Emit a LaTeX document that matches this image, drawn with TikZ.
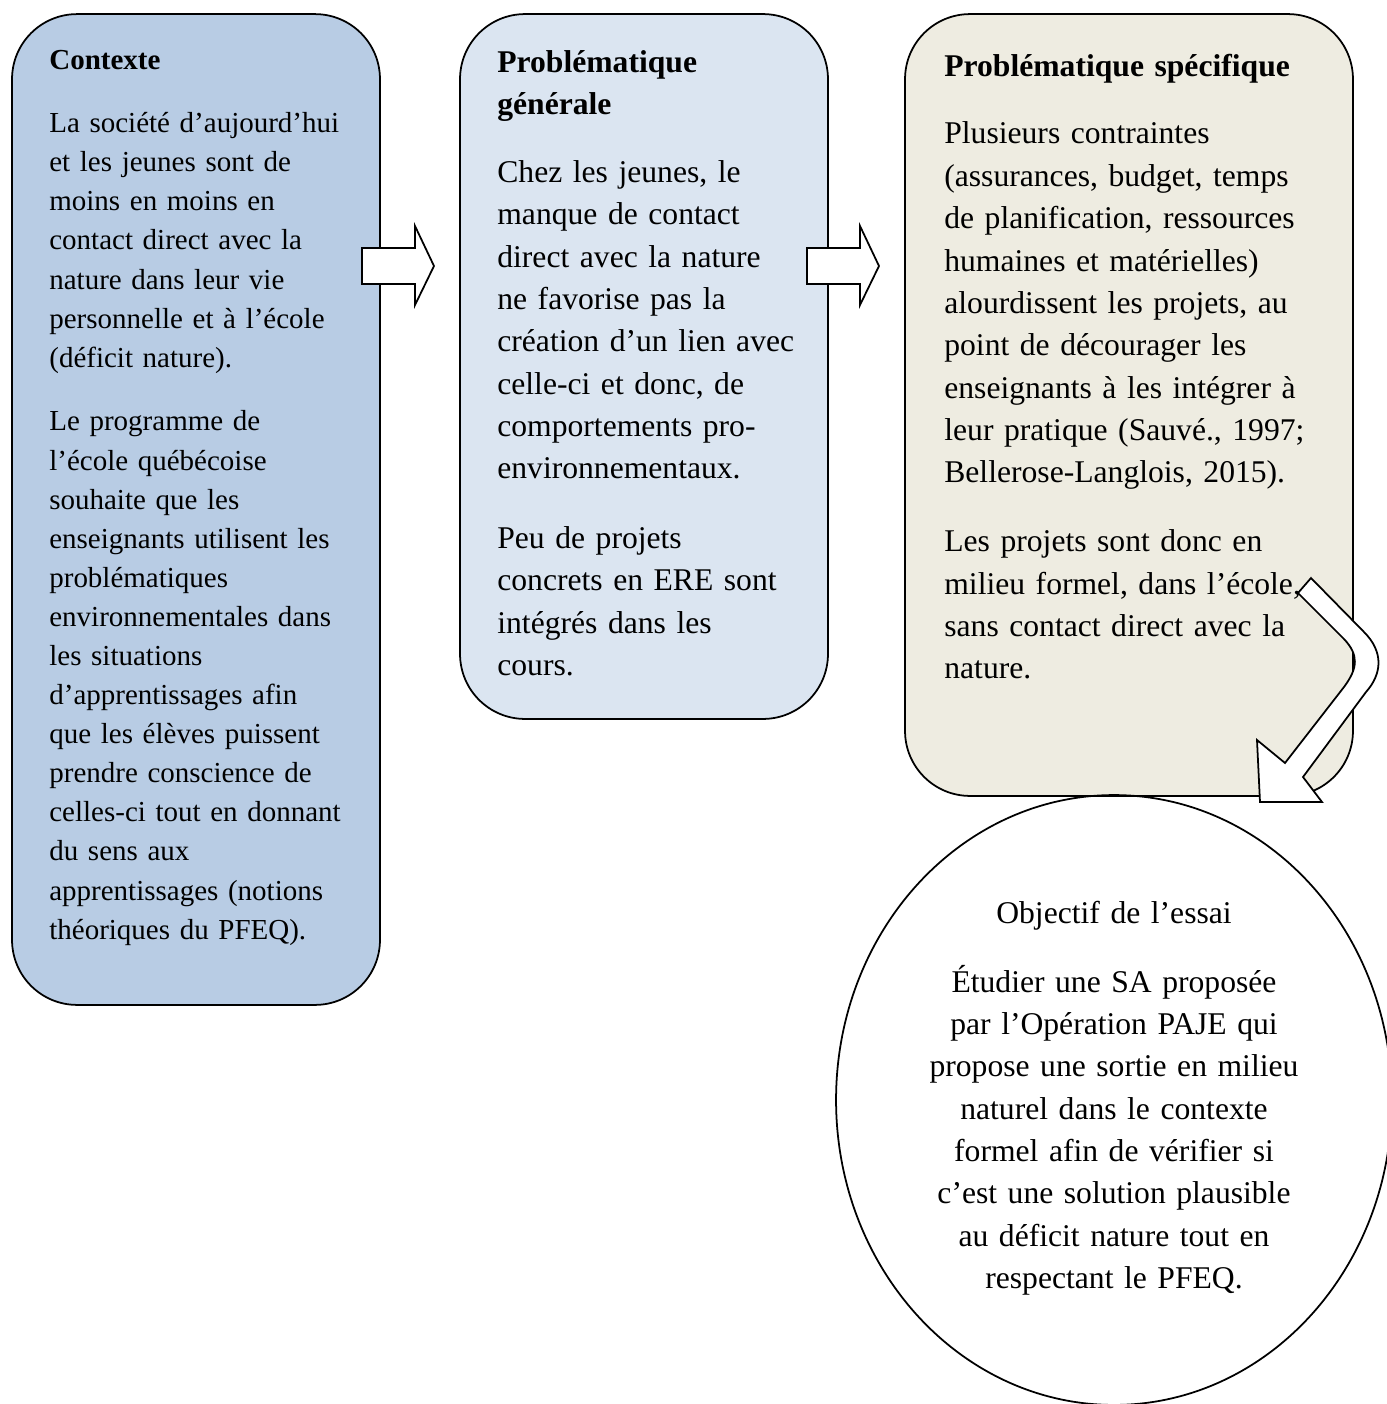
\documentclass[tikz,border=0pt]{standalone}
\usepackage{fontspec}
\setmainfont{Liberation Serif}
\usetikzlibrary{shapes.geometric}
\definecolor{ctxblue}{HTML}{B8CCE4}
\definecolor{genblue}{HTML}{DBE5F1}
\definecolor{specbeige}{HTML}{EEECE1}

\begin{document}
\begin{tikzpicture}
		[x=0.02cm,y=-0.02cm,
		box/.style={draw,line width=1pt,rounded corners=1.3cm,inner sep=0pt},
		body/.style={anchor=base west,align=left,inner sep=0pt,text width=7.5cm,font=\fontsize{18}{24.1}\selectfont},
		blockarrow/.style={draw,line width=1pt,fill=white,line join=miter}]
		\useasboundingbox (0,0) rectangle (1387,1404);

		\node[box,fill=ctxblue,minimum width=7.36cm,minimum height=19.82cm] (ctx) at (196,509.5) {};
		\node[box,fill=genblue,minimum width=7.36cm,minimum height=14.1cm] (gen) at (644,366.5) {};
		\node[box,fill=specbeige,minimum width=8.96cm,minimum height=15.64cm] (spec) at (1129,405) {};
		\node[draw,line width=1pt,ellipse,inner sep=0pt,minimum width=11.12cm,minimum height=12.2cm] (obj) at (1114,1100) {};

		\node[body,font=\fontsize{16.5}{22.25}\selectfont] (ctxtxt) at (49,69)
			{\textbf{Contexte}\\[14pt]
			La société d’aujourd’hui\\ et les jeunes sont de\\ moins en moins en\\ contact direct avec la\\
			nature dans leur vie\\ personnelle et à l’école\\ (déficit nature).\\[14pt]
			Le programme de\\ l’école québécoise\\ souhaite que les\\ enseignants utilisent les\\
			problématiques\\ environnementales dans\\ les situations\\ d’apprentissages afin\\
			que les élèves puissent\\ prendre conscience de\\ celles-ci tout en donnant\\ du sens aux\\
			apprentissages (notions\\ théoriques du PFEQ).};
		\node[body] (gentxt) at (497,72)
			{\textbf{Problématique}\\ \textbf{générale}\\[14.6pt]
			Chez les jeunes, le\\ manque de contact\\ direct avec la nature\\ ne favorise pas la\\
			création d’un lien avec\\ celle-ci et donc, de\\ comportements pro-\\ environnementaux.\\[15.6pt]
			Peu de projets\\ concrets en ERE sont\\ intégrés dans les\\ cours.};
		\node[body] (spectxt) at (944,76)
			{\textbf{Problématique spécifique}\\[14.6pt]
			Plusieurs contraintes\\ (assurances, budget, temps\\ de planification, ressources\\
			humaines et matérielles)\\ alourdissent les projets, au\\ point de décourager les\\
			enseignants à les intégrer à\\ leur pratique (Sauvé., 1997;\\ Bellerose-Langlois, 2015).\\[15.2pt]
			Les projets sont donc en\\ milieu formel, dans l’école,\\ sans contact direct avec la\\ nature.};
		\node[body,anchor=base,align=center,text width=9cm] (objtxt) at (1114,923)
			{Objectif de l’essai\\[15.2pt]
			Étudier une SA proposée\\ par l’Opération PAJE qui\\ propose une sortie en milieu\\
			naturel dans le contexte\\ formel afin de vérifier si\\ c’est une solution plausible\\
			au déficit nature tout en\\ respectant le PFEQ.};

		\draw[blockarrow] (362,248) -- (415,248) -- (415,226) -- (434,266) -- (415,305) -- (415,284) -- (362,284) -- cycle;
		\draw[blockarrow] (807,248) -- (860,248) -- (860,226) -- (879,266) -- (860,305) -- (860,284) -- (807,284) -- cycle;
		\draw[blockarrow] (1298,593) -- (1311,578) -- (1364,632)
			.. controls (1384,652) and (1382,674) .. (1366,692) -- (1303,777) -- (1322,802) -- (1260,802)
			-- (1257,740) -- (1285,763) -- (1344,687) .. controls (1358,668) and (1359,655) .. (1344,639) -- cycle;

	\end{tikzpicture}
\end{document}
